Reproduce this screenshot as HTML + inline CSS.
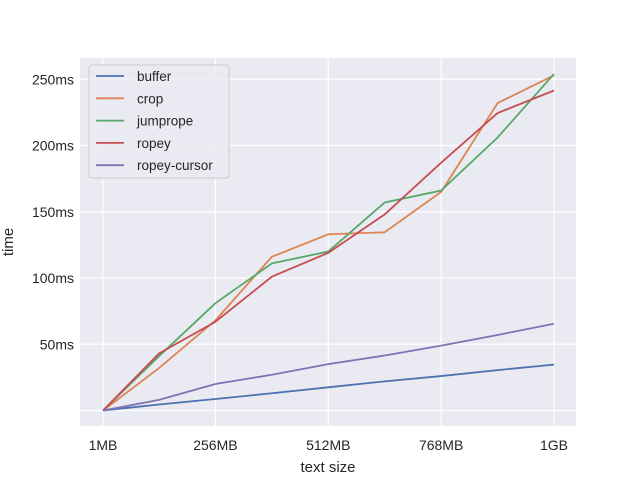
<!DOCTYPE html>
<html><head><meta charset="utf-8"><style>body{margin:0;background:#fff}svg{display:block;font-family:"Liberation Sans",sans-serif}</style></head>
<body>
<svg id="chart" width="640" height="480" xmlns="http://www.w3.org/2000/svg">
<rect x="80" y="58" width="496" height="368" fill="#eaeaf2"/>
<g id="grid"></g><g id="lines"></g><g id="ticks"></g>
<text x="328" y="472" font-size="15" text-anchor="middle" fill="#262626">text size</text>
<text transform="translate(13,242) rotate(-90)" font-size="15" text-anchor="middle" fill="#262626">time</text>
<g id="legend"></g>
</svg>
<script>
const sizes=[1,128,256,384,512,640,768,896,1024];
const xTicks=[1,256,512,768,1024];
const xTickLabels=["1MB","256MB","512MB","768MB","1GB"];
const yTicks=[50,100,150,200,250];
const yTickLabels=["50ms","100ms","150ms","200ms","250ms"];
const seriesNames=["buffer","crop","jumprope","ropey","ropey-cursor"];
const seriesColors=["#4c72b0","#dd8452","#55a868","#c44e52","#8172b3"];
const buffer=[0,4.5,8.7,13,17.5,22,26,30.5,34.6];
const crop=[0,32,68,116,133,134.5,165,232,253];
const jumprope=[0,41,81,111,120,157,166,206,254];
const ropey=[0,43,67,101,119,148,187,224.5,241.5];
const ropeyCursor=[0,8,20,27,35,41.5,49,57,65.5];
const seriesData=[buffer,crop,jumprope,ropey,ropeyCursor];
const X=v=>103+(v-1)*(554-103)/1023;
const Y=v=>410.5-v*1.325;
const NS="http://www.w3.org/2000/svg";
function mk(t,a,p){const e=document.createElementNS(NS,t);for(const k in a)e.setAttribute(k,a[k]);p.appendChild(e);return e;}
const grid=document.getElementById('grid'),ticks=document.getElementById('ticks'),lines=document.getElementById('lines'),leg=document.getElementById('legend');
[0].concat(yTicks).forEach((v,i)=>{const l=mk('line',{x1:80,x2:576,y1:Y(v),y2:Y(v),stroke:'#fff','stroke-width':1.2},grid);


if(v>0){const t=mk('text',{x:74,y:Y(v)+5,'font-size':14,'text-anchor':'end',fill:'#262626'},ticks);t.textContent=yTickLabels[i-1];

}});
xTicks.forEach((v,i)=>{const l=mk('line',{x1:X(v),x2:X(v),y1:58,y2:426,stroke:'#fff','stroke-width':1.2},grid);


const t=mk('text',{x:X(v),y:450,'font-size':14,'text-anchor':'middle',fill:'#262626'},ticks);t.textContent=xTickLabels[i];

});
seriesData.forEach((d,s)=>{const p=mk('polyline',{points:d.map((v,i)=>X(sizes[i])+','+Y(v)).join(' '),fill:'none',stroke:seriesColors[s],'stroke-width':1.8},lines);

});
const box=mk('rect',{x:89,y:65,width:140,height:113,rx:3,fill:'#eaeaf2',stroke:'#ccc','fill-opacity':0.8},leg);


seriesNames.forEach((n,s)=>{const y=76+s*22.3;
const l=mk('line',{x1:96,x2:124,y1:y,y2:y,stroke:seriesColors[s],'stroke-width':1.8},leg);


const t=mk('text',{x:137,y:y+5,'font-size':13.5,fill:'#262626'},leg);t.textContent=n;

});
</script>
</body></html>
